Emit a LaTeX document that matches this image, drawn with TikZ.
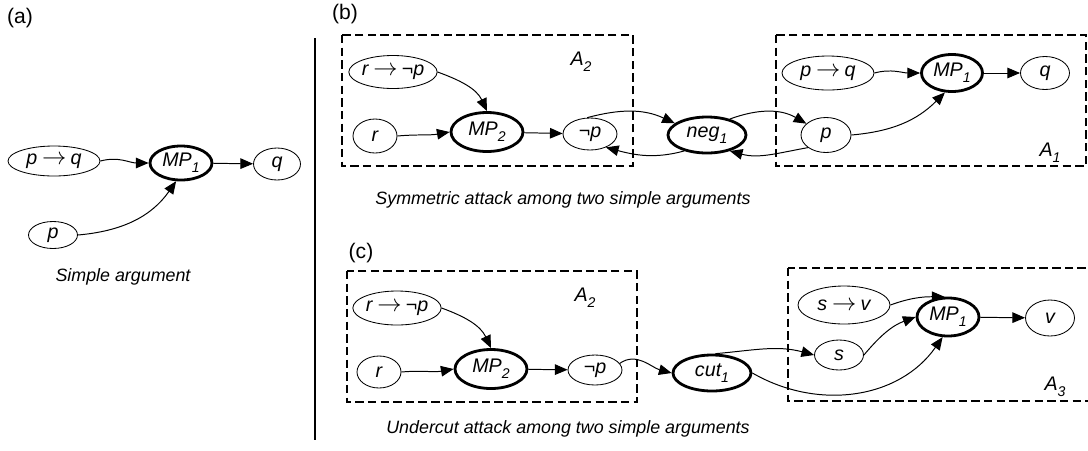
\documentclass[tikz,border=0pt]{standalone}
\usepackage{fontspec}
\setmainfont{Liberation Sans}
\usetikzlibrary{shapes.geometric,arrows.meta}

\newcommand{\idx}[1]{\raisebox{-0.55ex}{\fontsize{10}{10}\selectfont #1}}
\newcommand{\impl}{\hspace{3.5pt}{\fontsize{17}{17}\selectfont$\rightarrow$}\hspace{3pt}}

\tikzset{
  prem/.style={ellipse, draw, line width=0.6pt, inner sep=0pt,
    font=\fontsize{14}{16}\selectfont\itshape},
  rule/.style={prem, line width=2pt},
  sz/.style 2 args={minimum width=#1*0.025cm, minimum height=#2*0.025cm},
  link/.style={-{Triangle[length=9pt,width=7.5pt]}, line width=0.7pt},
  argbox/.style={draw, dash pattern=on 6pt off 3pt, line width=1.1pt},
  caption/.style={font=\fontsize{12.7}{15}\selectfont\itshape},
  argname/.style={font=\fontsize{14}{16}\selectfont\itshape},
  panel/.style={font=\fontsize{15}{17}\selectfont}
}

\begin{document}
\begin{tikzpicture}[x=0.025cm,y=0.025cm]
\useasboundingbox (0,0) rectangle (1088,-450);

% (a) simple argument
\node[panel] (la) at (20,-18) {(a)};
\node[prem, sz={92}{30}] (apq) at (54,-161) {p\impl q};
\node[rule, sz={62}{34}] (amp) at (181,-163) {MP\idx{1}};
\node[prem, sz={47}{32}] (aq) at (277,-164) {q};
\node[prem, sz={49}{27}] (ap) at (53,-235) {p};
\node[caption] (ca) at (123,-277) {Simple argument};
\draw[link] (apq.east) to[out=15,in=180] (amp.west);
\draw[link] (ap.east) to[out=5,in=-125] (amp.255);
\draw[link] (amp) -- (aq);

\draw[line width=1.4pt] (315,-38) -- (315,-440); % separator

% (b) symmetric attack
\node[panel] (lb) at (345,-14) {(b)};
\draw[argbox] (342,-35) rectangle (633,-166); % A2
\draw[argbox] (776,-35) rectangle (1086,-166); % A1
\node[argname] (bA2) at (581,-62) {A\idx{2}};
\node[argname] (bA1) at (1050,-153) {A\idx{1}};
\node[prem, sz={88}{33}] (brnp) at (393,-72) {r\impl ¬p};
\node[prem, sz={44}{34}] (br) at (375,-136) {r};
\node[rule, sz={72}{39}] (bmp2) at (487,-132) {MP\idx{2}};
\node[prem, sz={54}{32}] (bnp) at (590,-134) {¬p};
\node[rule, sz={78}{36}] (bneg) at (707,-135) {neg\idx{1}};
\node[prem, sz={92}{34}] (bpq) at (828,-73) {p\impl q};
\node[rule, sz={61}{37}] (bmp1) at (952,-73) {MP\idx{1}};
\node[prem, sz={49}{33}] (bq) at (1045,-73) {q};
\node[prem, sz={50}{35}] (bp) at (826,-135) {p};
\node[caption] (cb) at (563,-200) {Symmetric attack among two simple arguments};
\draw[link] (brnp.east) to[out=-20,in=115] (bmp2.north);
\draw[link] (br.east) to[out=5,in=190] (bmp2.west);
\draw[link] (bmp2) -- (bnp);
\draw[link] (bnp.100) to[out=15,in=155] (bneg.160);
\draw[link] (bneg.215) to[out=195,in=-15] (bnp.320);
\draw[link] (bneg.35) to[out=20,in=150] (bp.150);
\draw[link] (bp.215) to[out=190,in=-15] (bneg.325);
\draw[link] (bp.east) to[out=5,in=-135] (bmp1.250);
\draw[link] (bpq.east) to[out=15,in=180] (bmp1.west);
\draw[link] (bmp1) -- (bq);

% (c) undercut attack
\node[panel] (lc) at (361,-253) {(c)};
\draw[argbox] (347,-271) rectangle (637,-402); % A2
\draw[argbox] (788,-268) rectangle (1095,-401); % A3
\node[argname] (cA2) at (585,-298) {A\idx{2}};
\node[argname] (cA3) at (1055,-387) {A\idx{3}};
\node[prem, sz={88}{34}] (crnp) at (397,-308) {r\impl ¬p};
\node[prem, sz={44}{32}] (cr) at (379,-372) {r};
\node[rule, sz={72}{39}] (cmp2) at (491,-369) {MP\idx{2}};
\node[prem, sz={54}{30}] (cnp) at (595,-370) {¬p};
\node[rule, sz={78}{36}] (ccut) at (712,-373) {cut\idx{1}};
\node[prem, sz={92}{38}] (csv) at (844,-305) {s\impl v};
\node[rule, sz={62}{38}] (cmp1) at (948,-317) {MP\idx{1}};
\node[prem, sz={49}{36}] (cv) at (1050,-318) {v};
\node[prem, sz={49}{30}] (cs) at (839,-355) {s};
\node[caption] (cc) at (568,-429) {Undercut attack among two simple arguments};
\draw[link] (crnp.east) to[out=-20,in=115] (cmp2.north);
\draw[link] (cr.east) to[out=5,in=190] (cmp2.west);
\draw[link] (cmp2) -- (cnp);
\draw[link] (cnp.15) to[out=35,in=165] (ccut.west);
\draw[link] (ccut.80) to[out=5,in=165] (cs.west);
\draw[link] (ccut.east) to[out=-30,in=-125] (cmp1.255);
\draw[link] (cs.east) to[out=50,in=200] (cmp1.west);
\draw[link] (csv.east) to[out=20,in=180] (cmp1.100);
\draw[link] (cmp1) -- (cv);

\end{tikzpicture}
\end{document}
